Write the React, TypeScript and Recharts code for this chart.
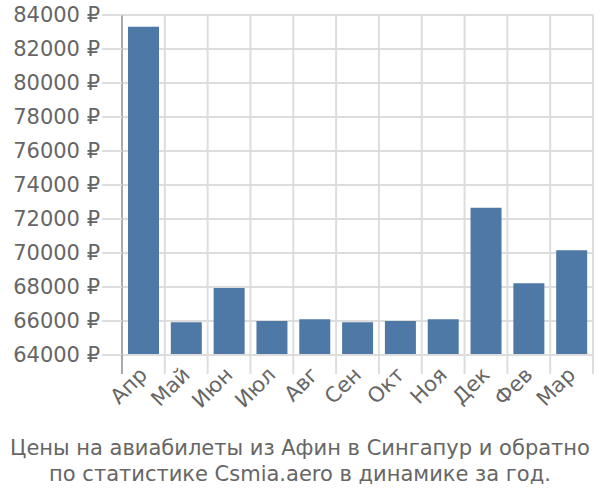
import React from 'react';
import { BarChart, Bar, XAxis, YAxis, CartesianGrid } from 'recharts';

const months = ['Апр', 'Май', 'Июн', 'Июл', 'Авг', 'Сен', 'Окт', 'Ноя', 'Дек', 'Фев', 'Мар'];
const prices = [83310, 65920, 67940, 66000, 66100, 65920, 66000, 66100, 72660, 68220, 70160];
const yTicks = [64000, 66000, 68000, 70000, 72000, 74000, 76000, 78000, 80000, 82000, 84000];
const titleLines = [
  'Цены на авиабилеты из Афин в Сингапур и обратно',
  'по статистике Csmia.aero в динамике за год.',
];

const data = months.map((m, i) => ({ month: m, price: prices[i] }));

const W = 600;
const H = 500;
const LEFT = 122;
const RIGHT = 7;
const TOP = 15;
const XH = 145;
const STEP = (W - LEFT - RIGHT) / months.length;
const FONT = '"DejaVu Sans", sans-serif';

const XTick = (props: any) => {
  const { x, y, payload, index } = props;
  const isLast = index === months.length - 1;
  return (
    <g>
      <line x1={x - STEP / 2} y1={y} x2={x - STEP / 2} y2={y + 19} stroke={index === 0 ? '#aaa' : '#ddd'} strokeWidth={2} />
      {isLast && <line x1={x + STEP / 2} y1={y} x2={x + STEP / 2} y2={y + 19} stroke="#ddd" strokeWidth={2} />}
      <text
        x={x + 5}
        y={y + 21}
        transform={`rotate(-45, ${x + 5}, ${y + 21})`}
        textAnchor="end"
        fill="#666"
        fontSize={21}
        fontFamily={FONT}
      >
        {payload.value}
      </text>
    </g>
  );
};

export default function App() {
  return (
    <div style={{ position: 'absolute', left: 0, top: 0, width: W, height: H, background: '#fff' }}>
      <BarChart width={W} height={H} data={data} margin={{ top: TOP, right: RIGHT, left: 0, bottom: 0 }}>
        <CartesianGrid
          stroke="#ddd"
          strokeWidth={2}
          verticalCoordinatesGenerator={({ offset }: any) =>
            Array.from({ length: months.length + 1 }, (_, i) => offset.left + (i * offset.width) / months.length)
          }
        />
        <XAxis
          dataKey="month"
          height={XH}
          interval={0}
          tickSize={0}
          tickMargin={0}
          tickLine={false}
          axisLine={{ stroke: '#ddd', strokeWidth: 2 }}
          tick={<XTick />}
        />
        <YAxis
          width={LEFT}
          domain={[64000, 84000]}
          ticks={yTicks}
          interval={0}
          tickSize={20}
          tickMargin={2}
          tickLine={{ stroke: '#ddd', strokeWidth: 2 }}
          axisLine={{ stroke: '#aaa', strokeWidth: 2 }}
          tickFormatter={(v: number) => `${v} ₽`}
          tick={{ fill: '#666', fontSize: 21, fontFamily: FONT }}
        />
        <Bar dataKey="price" fill="#4e79a7" barSize={31} isAnimationActive={false} />
      </BarChart>
      <div
        style={{
          position: 'absolute',
          left: 0,
          top: 435,
          width: W,
          textAlign: 'center',
          fontFamily: FONT,
          fontSize: 21,
          lineHeight: '26px',
          color: '#666',
        }}
      >
        {titleLines.map((t) => (
          <div key={t}>{t}</div>
        ))}
      </div>
    </div>
  );
}
